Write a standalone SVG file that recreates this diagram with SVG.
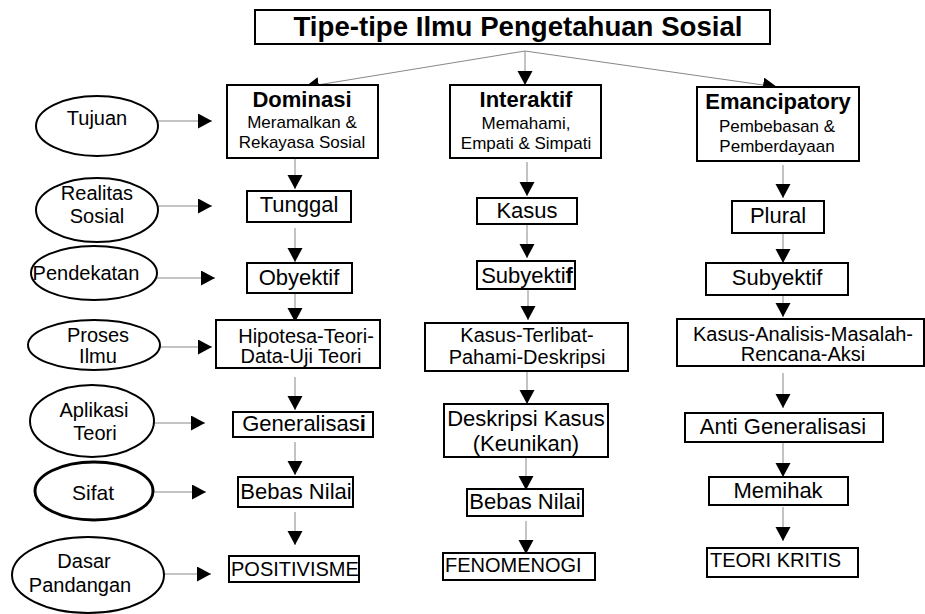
<svg xmlns="http://www.w3.org/2000/svg" width="925" height="614" viewBox="0 0 925 614">
<style>
text{font-family:"Liberation Sans",Arial,sans-serif;fill:#000;text-anchor:middle}
.bx{fill:#fff;stroke:#000;stroke-width:2}
.el{fill:#fff;stroke:#000;stroke-width:2}
.t1{font-size:22px}
.t2{font-size:20px}
.hd{font-size:22px;font-weight:bold}
.sub{font-size:17px}
.st{text-anchor:start}
.cn{stroke:#888;stroke-width:1;fill:none;marker-end:url(#ah)}
</style>
<defs>
<marker id="ah" markerUnits="userSpaceOnUse" markerWidth="15" markerHeight="16" refX="14" refY="7.5" orient="auto">
<path d="M0,0 L14,7.5 L0,15 z" fill="#000"/>
</marker>
</defs>
<rect width="925" height="614" fill="#fff"/>

<g id="connectors">
<line class="cn" x1="525" y1="51" x2="305" y2="87"/>
<line class="cn" x1="525" y1="51" x2="525" y2="85"/>
<line class="cn" x1="525" y1="51" x2="777" y2="87"/>
<line class="cn" x1="158" y1="121" x2="212" y2="121"/>
<line class="cn" x1="158" y1="206" x2="212" y2="206"/>
<line class="cn" x1="157" y1="278" x2="215" y2="278"/>
<line class="cn" x1="160" y1="347" x2="212" y2="347"/>
<line class="cn" x1="154" y1="423" x2="205" y2="423"/>
<line class="cn" x1="154" y1="492" x2="206" y2="492"/>
<line class="cn" x1="164" y1="574" x2="211" y2="574"/>
<line class="cn" x1="295" y1="158" x2="295" y2="189"/>
<line class="cn" x1="295" y1="228" x2="295" y2="262"/>
<line class="cn" x1="295" y1="293" x2="295" y2="322"/>
<line class="cn" x1="295" y1="377" x2="295" y2="410"/>
<line class="cn" x1="295" y1="442" x2="295" y2="475"/>
<line class="cn" x1="295" y1="512" x2="295" y2="545"/>
<line class="cn" x1="527" y1="162" x2="527" y2="196"/>
<line class="cn" x1="527" y1="224" x2="527" y2="258"/>
<line class="cn" x1="528" y1="289" x2="528" y2="320"/>
<line class="cn" x1="527" y1="371" x2="527" y2="404"/>
<line class="cn" x1="526" y1="457" x2="526" y2="490"/>
<line class="cn" x1="526" y1="521" x2="526" y2="554"/>
<line class="cn" x1="783" y1="165" x2="783" y2="198"/>
<line class="cn" x1="783" y1="233" x2="783" y2="263"/>
<line class="cn" x1="783" y1="295" x2="783" y2="317"/>
<line class="cn" x1="783" y1="373" x2="783" y2="408"/>
<line class="cn" x1="783" y1="443" x2="783" y2="477"/>
<line class="cn" x1="783" y1="507" x2="783" y2="541"/>
</g>

<g id="title">
<rect class="bx" x="255" y="10" width="515" height="34"/>
<text x="518" y="36" style="font-size:27px;font-weight:bold" textLength="449" lengthAdjust="spacingAndGlyphs">Tipe-tipe Ilmu Pengetahuan Sosial</text>
</g>

<g id="tujuan"><ellipse class="el" cx="97" cy="126" rx="61" ry="30"/><text class="t2" x="97" y="125">Tujuan</text></g>
<g id="realitas"><ellipse class="el" cx="97" cy="210" rx="61" ry="32"/><text class="t2" x="97" y="200">Realitas</text><text class="t2" x="97" y="223">Sosial</text></g>
<g id="pendekatan"><ellipse class="el" cx="94" cy="273" rx="63" ry="27"/><text class="t2" x="86" y="280">Pendekatan</text></g>
<g id="proses"><ellipse class="el" cx="94" cy="345" rx="66" ry="25"/><text class="t2" x="98" y="342">Proses</text><text class="t2" x="98" y="363">Ilmu</text></g>
<g id="aplikasi"><ellipse class="el" cx="92" cy="421" rx="62" ry="36"/><text class="t2" x="94" y="417">Aplikasi</text><text class="t2" x="95" y="440">Teori</text></g>
<g id="sifat"><ellipse class="el" cx="94" cy="491" rx="59" ry="29" style="stroke-width:3"/><text class="t2" x="93" y="500" style="font-size:21px">Sifat</text></g>
<g id="dasar"><ellipse class="el" cx="88" cy="575" rx="76" ry="38"/><text class="t2" x="84" y="568">Dasar</text><text class="t2" x="80" y="592">Pandangan</text></g>

<g id="dominasi"><rect class="bx" x="227" y="85" width="151" height="73"/><text class="hd" x="302" y="107">Dominasi</text><text class="sub" x="302" y="128">Meramalkan &amp;</text><text class="sub" x="302" y="148">Rekayasa Sosial</text></g>
<g id="tunggal"><rect class="bx" x="247" y="191" width="104" height="31"/><text class="t1" x="299" y="212">Tunggal</text></g>
<g id="obyektif"><rect class="bx" x="247" y="263" width="105" height="30"/><text class="t1" x="299" y="285">Obyektif</text></g>
<g id="hipotesa"><rect class="bx" x="216" y="320" width="164" height="48"/><text class="t2" x="306" y="343">Hipotesa-Teori-</text><text class="t2" x="301" y="363">Data-Uji Teori</text></g>
<g id="generalisasi"><rect class="bx" x="233" y="412" width="140" height="25"/><text class="t1" x="304" y="431">Generalisas<tspan font-weight="bold">i</tspan></text></g>
<g id="bebas1"><rect class="bx" x="238" y="477" width="115" height="30"/><text class="t1" x="296" y="499">Bebas Nilai</text></g>
<g id="positivisme"><rect class="bx" x="229" y="556" width="130" height="26"/><text class="t2 st" x="231" y="576">POSITIVISME</text></g>

<g id="interaktif"><rect class="bx" x="450" y="85" width="151" height="73"/><text class="hd" x="526" y="107">Interaktif</text><text class="sub" x="526" y="129">Memahami,</text><text class="sub" x="526" y="149">Empati &amp; Simpati</text></g>
<g id="kasus"><rect class="bx" x="477" y="198" width="100" height="26"/><text class="t1" x="527" y="218">Kasus</text></g>
<g id="subyektif1"><rect class="bx" x="477" y="261" width="98" height="28"/><text class="t1" x="527" y="283">Subyekti<tspan font-weight="bold">f</tspan></text></g>
<g id="kasusterlibat"><rect class="bx" x="425" y="323" width="203" height="48"/><text class="t2" x="527" y="342">Kasus-Terlibat-</text><text class="t2" x="527" y="364">Pahami-Deskripsi</text></g>
<g id="deskripsi"><rect class="bx" x="444" y="404" width="164" height="53"/><text class="t1" x="526" y="426">Deskripsi Kasus</text><text class="t1" x="526" y="451">(Keunikan)</text></g>
<g id="bebas2"><rect class="bx" x="467" y="489" width="116" height="27"/><text class="t1" x="525" y="509">Bebas Nilai</text></g>
<g id="fenomenogi"><rect class="bx" x="443" y="553" width="152" height="27"/><text class="t2 st" x="445" y="572">FENOMENOGI</text></g>

<g id="emancipatory"><rect class="bx" x="697" y="87" width="162" height="74"/><text class="hd" x="778" y="109">Emancipatory</text><text class="sub" x="777" y="132">Pembebasan &amp;</text><text class="sub" x="777" y="152">Pemberdayaan</text></g>
<g id="plural"><rect class="bx" x="732" y="201" width="92" height="32"/><text class="t1" x="778" y="223">Plural</text></g>
<g id="subyektif2"><rect class="bx" x="706" y="263" width="142" height="32"/><text class="t1" x="777" y="285">Subyektif</text></g>
<g id="kasusanalisis"><rect class="bx" x="677" y="319" width="247" height="47"/><text class="t2" x="803" y="341">Kasus-Analisis-Masalah-</text><text class="t2" x="803" y="361">Rencana-Aksi</text></g>
<g id="antigeneralisasi"><rect class="bx" x="685" y="413" width="198" height="29"/><text class="t1" x="783" y="434">Anti Generalisasi</text></g>
<g id="memihak"><rect class="bx" x="709" y="477" width="139" height="28"/><text class="t1" x="778" y="498">Memihak</text></g>
<g id="teorikritis"><rect class="bx" x="707" y="548" width="151" height="29"/><text class="t2 st" x="710" y="567">TEORI KRITIS</text></g>
</svg>
